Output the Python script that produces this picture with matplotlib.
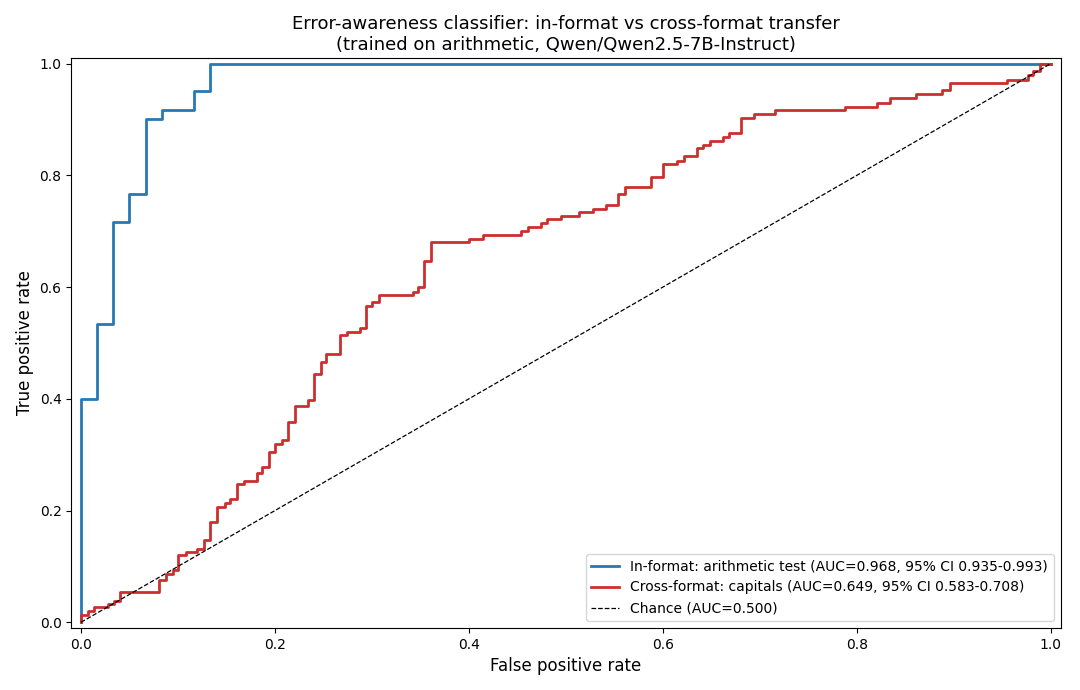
import matplotlib
matplotlib.use('Agg')
import matplotlib.pyplot as plt

# ROC points (fpr at each vertical jump, tpr after the jump)
in_fpr = [0.0, 0.0, 1 / 60, 2 / 60, 3 / 60, 4 / 60, 5 / 60, 7 / 60, 8 / 60, 1.0]
in_tpr = [0.0, 0.4, 32 / 60, 43 / 60, 46 / 60, 54 / 60, 55 / 60, 57 / 60, 1.0, 1.0]

cross_fpr = [0.0, 0.0, 0.007, 0.0137, 0.028, 0.0337, 0.0405, 0.0807, 0.0875, 0.0944,
             0.1, 0.108, 0.12, 0.127, 0.1335, 0.14, 0.148, 0.154, 0.161, 0.168,
             0.181, 0.187, 0.194, 0.2, 0.207, 0.2135, 0.221, 0.234, 0.24, 0.247,
             0.253, 0.267, 0.274, 0.288, 0.2935, 0.3, 0.307, 0.342, 0.347, 0.354,
             0.361, 0.4, 0.414, 0.454, 0.461, 0.4745, 0.481, 0.495, 0.514, 0.528,
             0.541, 0.554, 0.561, 0.588, 0.6, 0.6145, 0.6216, 0.635, 0.641, 0.649,
             0.6624, 0.6677, 0.681, 0.694, 0.7156, 0.788, 0.821, 0.834, 0.861, 0.8875,
             0.896, 0.955, 0.976, 0.9815, 0.989, 1.0]
cross_tpr = [0.0, 0.0125, 0.02, 0.027, 0.032, 0.039, 0.054, 0.075, 0.086, 0.093,
             0.12, 0.125, 0.132, 0.147, 0.179, 0.207, 0.213, 0.221, 0.247, 0.253,
             0.267, 0.278, 0.305, 0.32, 0.326, 0.359, 0.387, 0.398, 0.445, 0.465,
             0.48, 0.514, 0.52, 0.526, 0.566, 0.574, 0.586, 0.592, 0.6, 0.647,
             0.68, 0.686, 0.6935, 0.7007, 0.7066, 0.714, 0.7215, 0.7276, 0.7335, 0.74,
             0.747, 0.767, 0.779, 0.797, 0.82, 0.826, 0.835, 0.848, 0.855, 0.8615,
             0.869, 0.875, 0.902, 0.91, 0.916, 0.922, 0.929, 0.9375, 0.945, 0.952,
             0.965, 0.971, 0.979, 0.986, 1.0, 1.0]

labels = ['In-format: arithmetic test (AUC=0.968, 95% CI 0.935-0.993)',
          'Cross-format: capitals (AUC=0.649, 95% CI 0.583-0.708)',
          'Chance (AUC=0.500)']

fig, ax = plt.subplots(figsize=(10.8, 6.9), dpi=100)
ax.plot(in_fpr, in_tpr, drawstyle='steps-post', color='#2878b5', lw=2, label=labels[0])
ax.plot(cross_fpr, cross_tpr, drawstyle='steps-post', color='#cc2f2f', lw=2, label=labels[1])
ax.plot([0, 1], [0, 1], 'k--', lw=0.9, label=labels[2])

ax.set_xlim(-0.01, 1.01)
ax.set_ylim(-0.01, 1.01)
ax.set_xlabel('False positive rate', fontsize=12)
ax.set_ylabel('True positive rate', fontsize=12)
ax.set_title('Error-awareness classifier: in-format vs cross-format transfer\n'
             '(trained on arithmetic, Qwen/Qwen2.5-7B-Instruct)', fontsize=13)
ax.legend(loc='lower right', fontsize=10)

plt.subplots_adjust(left=0.066, right=0.982, top=0.916, bottom=0.09)
plt.savefig('out.png')
